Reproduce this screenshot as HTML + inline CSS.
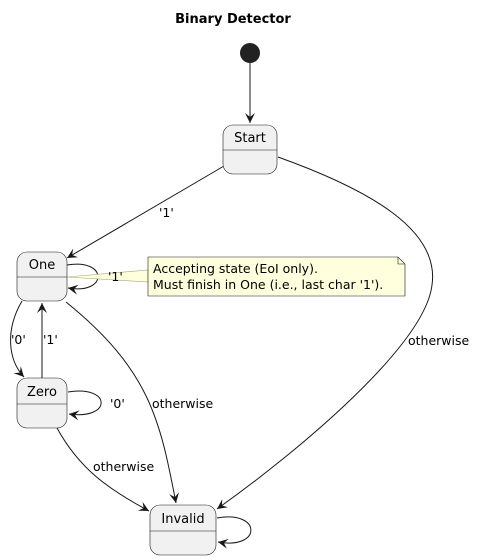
<!DOCTYPE html>
<html><head><meta charset="utf-8"><style>
html,body{margin:0;padding:0;background:#fff;}
svg{display:block;font-family:"DejaVu Sans","Liberation Sans",sans-serif;}
</style></head><body>
<svg width="480" height="560" viewBox="0 0 480 560" xmlns="http://www.w3.org/2000/svg">
<defs>
<marker id="a" markerWidth="12" markerHeight="12" refX="10" refY="5" orient="auto" markerUnits="userSpaceOnUse">
<path d="M0,0 L10,5 L0,10 L4,5 Z" fill="#181818"/>
</marker>
</defs>
<text x="233" y="23" font-size="13" font-weight="bold" text-anchor="middle" fill="#000">Binary Detector</text>
<circle cx="250" cy="53" r="10" fill="#222"/>
<g fill="none" stroke="#181818" stroke-width="1">
<path d="M250,63 L250,123" marker-end="url(#a)"/>
<path d="M224,166 L67,258" marker-end="url(#a)"/>
<path d="M278,157 C370,190 440,230 432,285 C425,345 300,450 217,509" marker-end="url(#a)"/>
<path d="M67,265 C108,258 108,295 68,288" marker-end="url(#a)"/>
<path d="M22,301 C5,330 8,360 24,377" marker-end="url(#a)"/>
<path d="M42,378 L42,303" marker-end="url(#a)"/>
<path d="M68,392 C112,385 112,420 69,414" marker-end="url(#a)"/>
<path d="M66,302 C150,370 160,420 176,503" marker-end="url(#a)"/>
<path d="M57,428 C80,470 110,490 149,511" marker-end="url(#a)"/>
<path d="M217,518 C262,510 262,550 218,542" marker-end="url(#a)"/>
</g>
<path d="M67,277 L148,270 L148,282 Z" fill="#ffffdd" stroke="#a8a878" stroke-width="0.6"/>
<g fill="#f1f1f1" stroke="#181818" stroke-width="0.6">
<rect x="223" y="125" width="54" height="49" rx="10"/>
<rect x="17" y="252" width="50" height="49" rx="10"/>
<rect x="17" y="378" width="50" height="50" rx="10"/>
<rect x="150" y="505" width="66" height="50" rx="10"/>
</g>
<g stroke="#181818" stroke-width="0.6">
<line x1="223" y1="150" x2="277" y2="150"/>
<line x1="17" y1="277" x2="67" y2="277"/>
<line x1="17" y1="404" x2="67" y2="404"/>
<line x1="150" y1="531" x2="216" y2="531"/>
</g>
<path d="M148,257 L398,257 L405,264 L405,296 L148,296 Z" fill="#ffffdd" stroke="#181818" stroke-width="0.6"/>
<path d="M398,257 L398,264 L405,264" fill="none" stroke="#181818" stroke-width="0.6"/>
<g font-size="13" fill="#000" text-anchor="middle">
<text x="250" y="142">Start</text>
<text x="42" y="269">One</text>
<text x="42" y="396">Zero</text>
<text x="183" y="523">Invalid</text>
</g>
<g font-size="12.5" fill="#000">
<text x="153" y="273">Accepting state (EoI only).</text>
<text x="153" y="289">Must finish in One (i.e., last char '1').</text>
</g>
<g font-size="12.5" fill="#000">
<text x="159" y="217">'1'</text>
<text x="408" y="345">otherwise</text>
<text x="108" y="281">'1'</text>
<text x="11" y="344">'0'</text>
<text x="43" y="344">'1'</text>
<text x="110" y="408">'0'</text>
<text x="152" y="408">otherwise</text>
<text x="93" y="471">otherwise</text>
</g>
</svg>
</body></html>
